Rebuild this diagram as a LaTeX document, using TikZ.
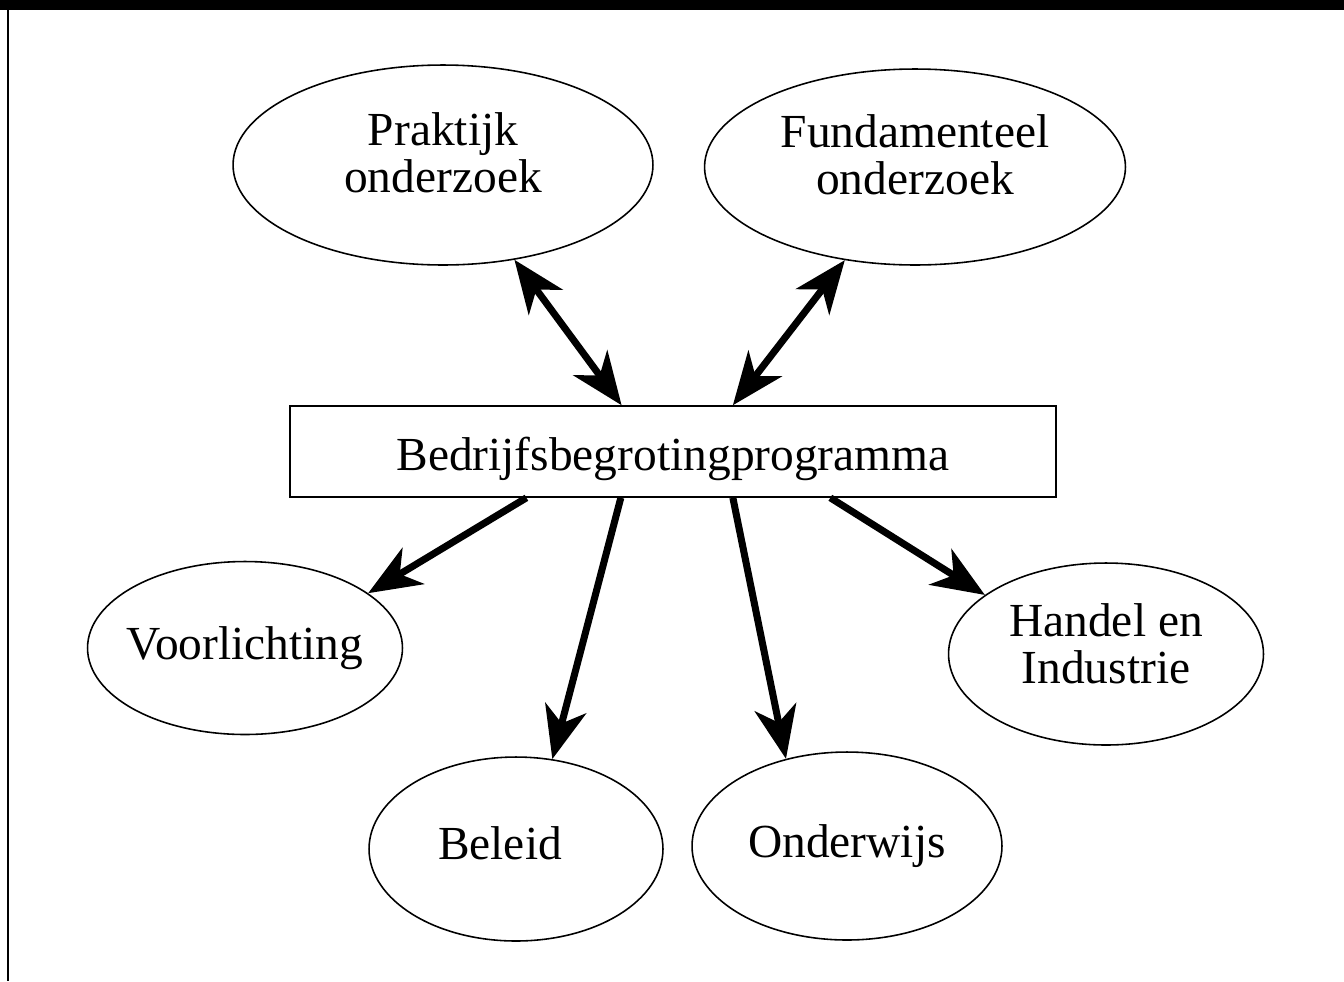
\documentclass[tikz,border=0pt]{standalone}
\usepackage{fontspec}
\setmainfont{Liberation Serif}
\usepackage{tikz}
\usetikzlibrary{arrows.meta, shapes.geometric, calc}

\tikzset{
	bubble/.style={ellipse, draw, line width=0.9pt, inner sep=0pt, align=center,
		font=\fontsize{27}{26.5}\selectfont},
	blok/.style={rectangle, draw, line width=0.9pt, inner sep=0pt,
		font=\fontsize{27}{26.5}\selectfont},
	pijl/.style={line width=4pt, -{Stealth[length=30pt, width=24pt, inset=9pt]}},
	tweepijl/.style={line width=4pt, {Stealth[length=30pt, width=24pt, inset=9pt]}-{Stealth[length=30pt, width=24pt, inset=9pt]}}
}

\begin{document}
\begin{tikzpicture}[x=0.02cm, y=-0.02cm]
	\useasboundingbox (0,0) rectangle (1344,981);
	
	\fill[black] (0,0) rectangle (1344,10);
	\draw[line width=1.6pt] (8,0) -- (8,981);
	
	\node[bubble, minimum width=8.4cm, minimum height=4cm] (prak) at (443,165) {\raisebox{3pt}[\height][\depth]{\begin{tabular}{@{}c@{}}Praktijk\\onderzoek\end{tabular}}};
	\node[bubble, minimum width=8.42cm, minimum height=3.92cm] (fund) at (915,167) {\raisebox{3pt}[\height][\depth]{\begin{tabular}{@{}c@{}}Fundamenteel\\onderzoek\end{tabular}}};
	
	\node[blok, minimum width=15.32cm, minimum height=1.82cm] (bedr) at (673,451.5) {\raisebox{-4pt}[\height][\depth]{Bedrijfsbegrotingprogramma}};
	
	\node[bubble, minimum width=6.3cm, minimum height=3.46cm] (voor) at (245,648) {\makebox[0pt]{Voorlichting}};
	\node[bubble, minimum width=5.88cm, minimum height=3.68cm] (bel) at (516,849) {\makebox[0pt]{\hspace*{-0.64cm}\raisebox{3pt}[\height][\depth]{Beleid}}};
	\node[bubble, minimum width=6.2cm, minimum height=3.76cm] (ond) at (847,846) {Onderwijs};
	\node[bubble, minimum width=6.3cm, minimum height=3.64cm] (han) at (1106,654) {\raisebox{2pt}[\height][\depth]{\begin{tabular}{@{}c@{}}Handel en\\Industrie\end{tabular}}};
	
	\draw[tweepijl] (prak.-53) -- ($(bedr.north west)!0.433!(bedr.north east)$);
	\draw[tweepijl] (fund.-127) -- ($(bedr.north west)!0.578!(bedr.north east)$);
	
	\draw[pijl] ($(bedr.south west)!0.309!(bedr.south east)$) -- (voor.24);
	\draw[pijl] ($(bedr.south west)!0.432!(bedr.south east)$) -- (bel.68);
	\draw[pijl] ($(bedr.south west)!0.578!(bedr.south east)$) -- (ond.125);
	\draw[pijl] ($(bedr.south west)!0.705!(bedr.south east)$) -- (han.154);
\end{tikzpicture}
\end{document}
